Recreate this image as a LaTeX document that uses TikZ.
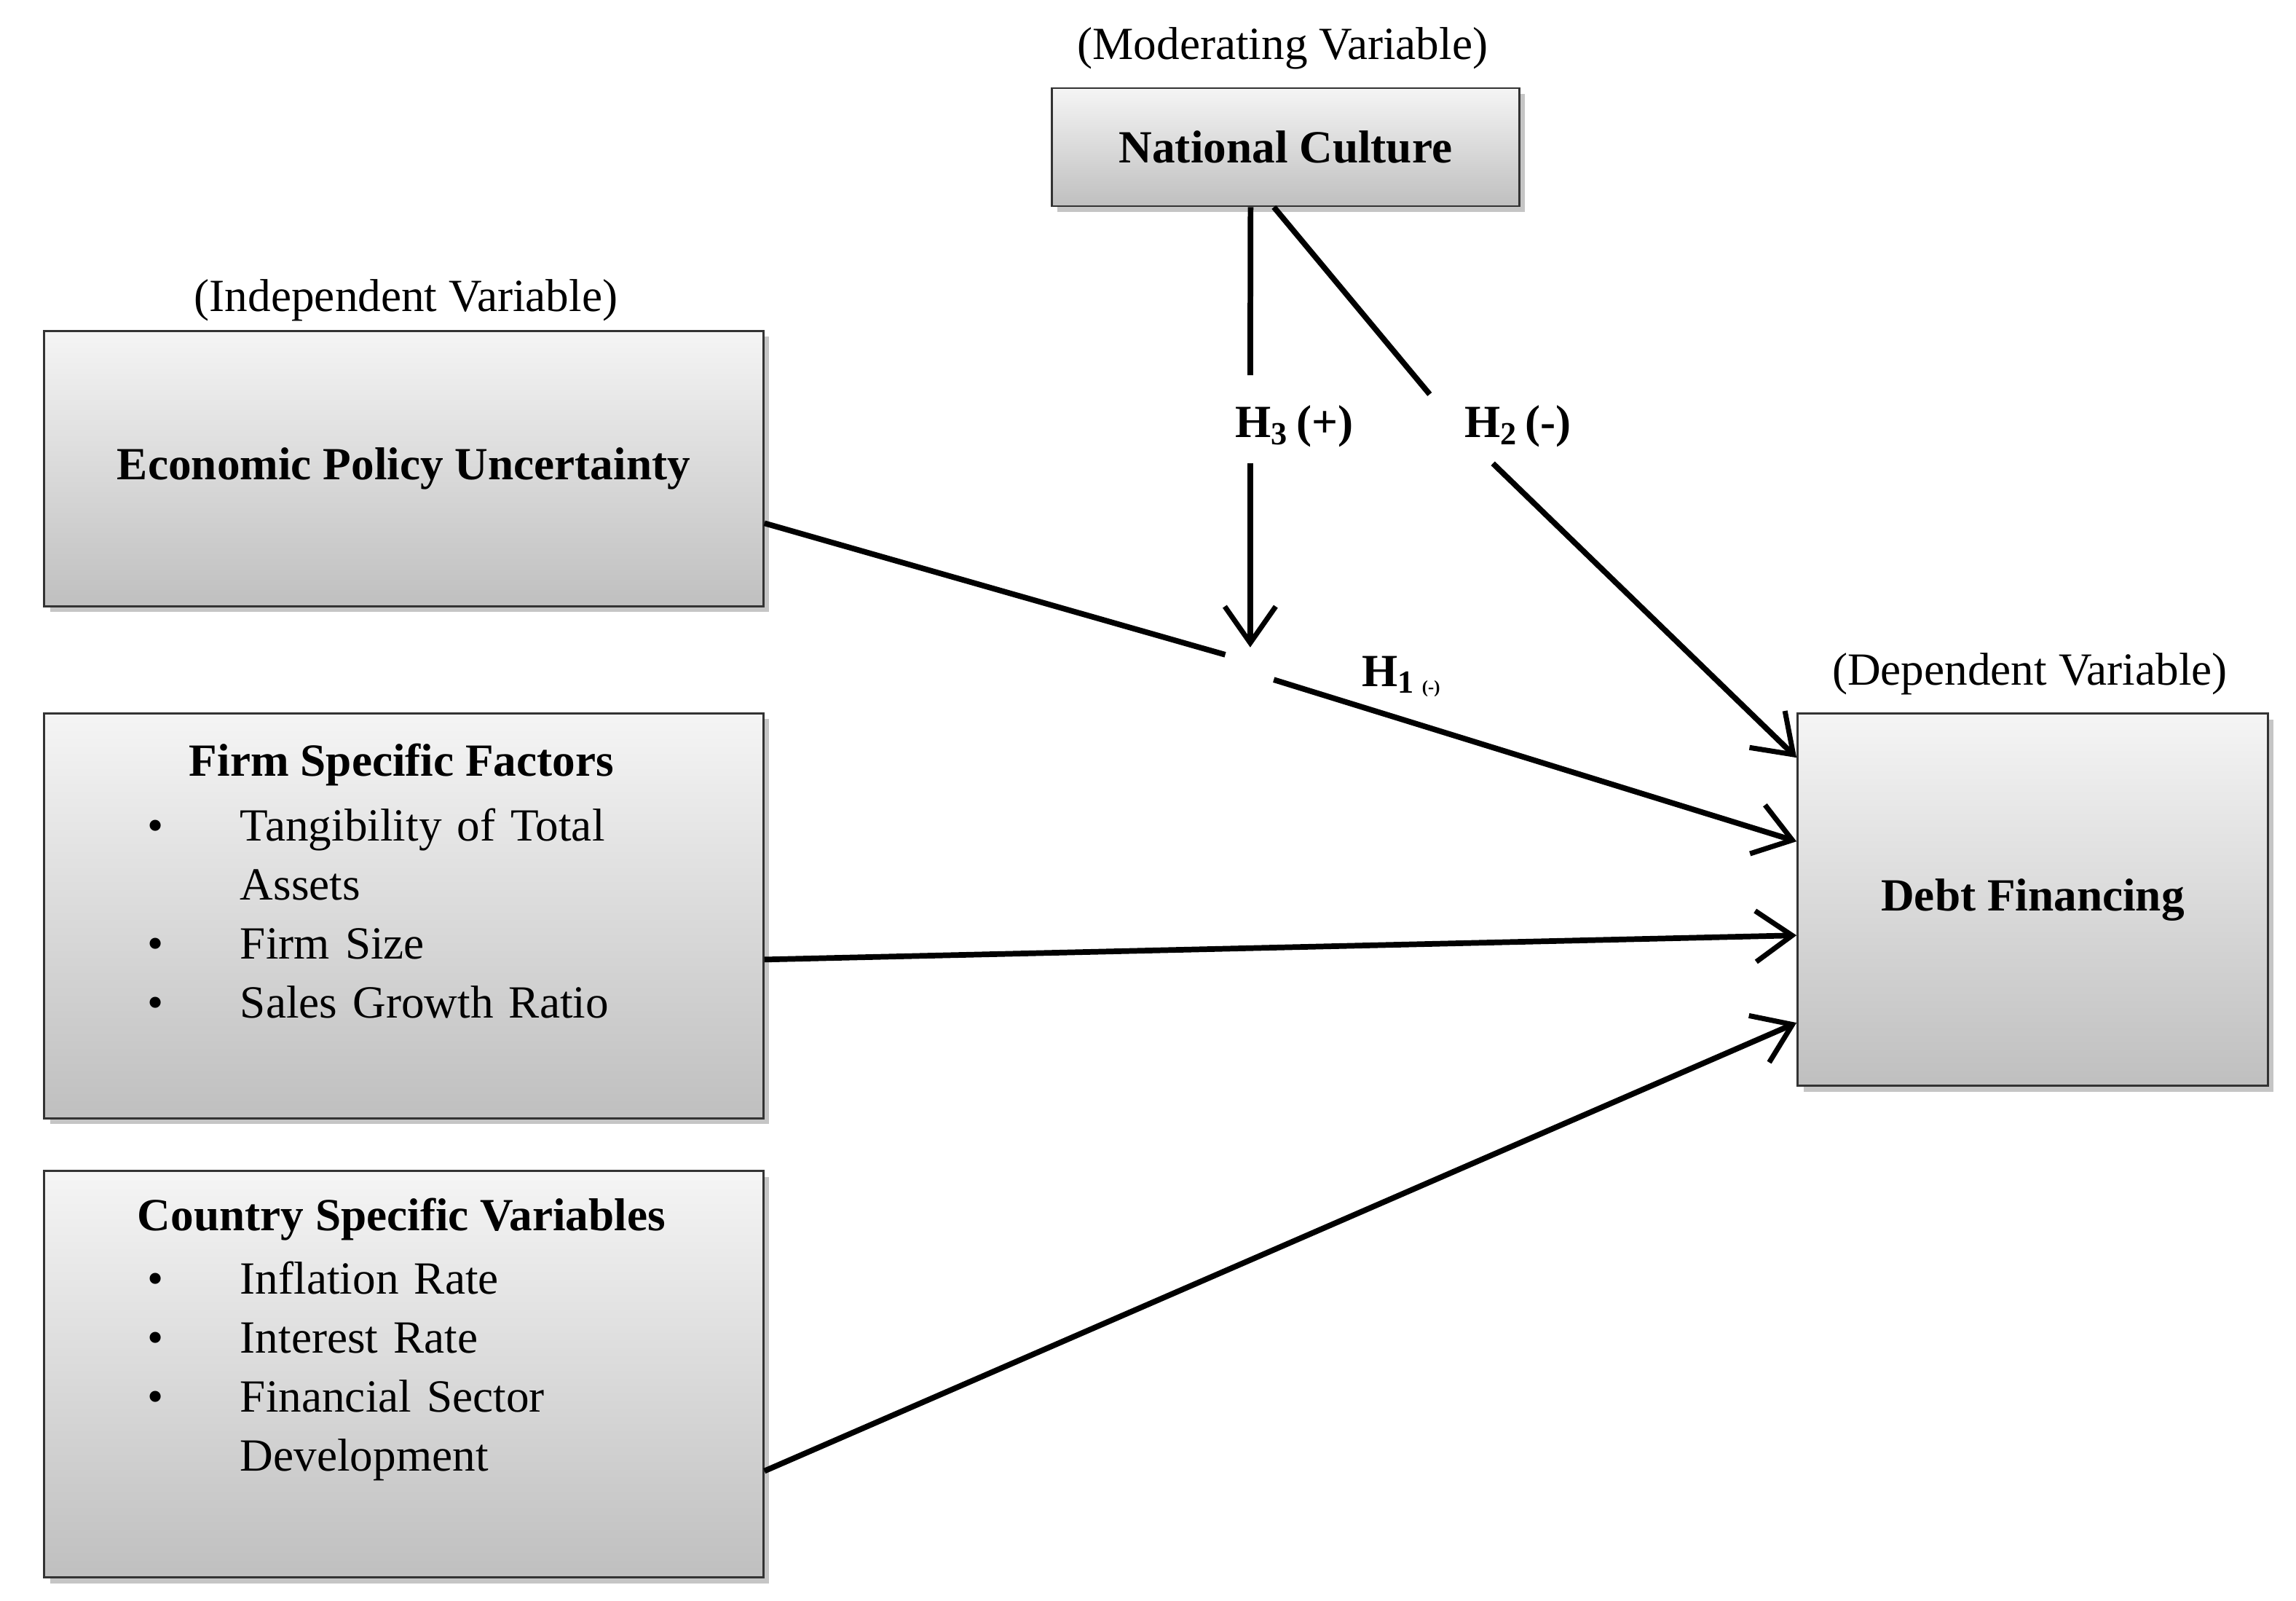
\documentclass[tikz,border=0pt]{standalone}
\usepackage{fontspec}
\setmainfont{Liberation Serif}
\usetikzlibrary{arrows.meta,shadows}
\tikzset{
  box/.style={draw=black!80, thick, top color=gray!8, bottom color=gray!50,
    drop shadow={shadow xshift=0.8mm, shadow yshift=-0.8mm, fill=black!45}},
  lab/.style={font=\fontsize{18}{22}\selectfont},
  link/.style={line width=2.2pt, -{Straight Barb[length=5mm,width=7mm,line width=2pt]}},
  seg/.style={line width=2.2pt}
}
\newcommand{\itm}[1]{\noindent\llap{\textbullet\hspace{1.05cm}}#1\par}
\begin{document}
\begin{tikzpicture}[x=0.0202cm, y=-0.0202cm]
  \useasboundingbox (0,0) rectangle (1561,1088);

  % boxes
  \node[box, minimum width=6.42cm, minimum height=1.62cm, lab] (nc) at (874,100) {\textbf{National Culture}};
  \node[box, minimum width=9.88cm, minimum height=3.78cm, lab] (epu) at (274.5,318.5) {\textbf{Economic Policy Uncertainty}};
  \node[box, minimum width=9.88cm, minimum height=5.56cm] (firm) at (274.5,622.5) {};
  \node[box, minimum width=9.88cm, minimum height=5.58cm] (ctry) at (274.5,934) {};
  \node[box, minimum width=6.46cm, minimum height=5.11cm, lab] (debt) at (1382,611.5) {\textbf{Debt Financing}};

  % box contents
  \node[lab] (firmT) at (273,520) {\textbf{Firm Specific Factors}};
  \node[lab, anchor=north west, text width=6.7cm, inner sep=0pt] (firmL) at (163,549) {\linespread{1.05}\selectfont
    \itm{Tangibility of Total\linebreak Assets}\itm{Firm Size}\itm{Sales Growth Ratio}};
  \node[lab] (ctryT) at (273,829) {\textbf{Country Specific Variables}};
  \node[lab, anchor=north west, text width=6.7cm, inner sep=0pt] (ctryL) at (163,857) {\linespread{1.05}\selectfont
    \itm{Inflation Rate}\itm{Interest Rate}\itm{Financial Sector\linebreak Development}};

  % headings
  \node[lab] (modT) at (872,33) {(Moderating Variable)};
  \node[lab] (indT) at (276,204) {(Independent Variable)};
  \node[lab] (depT) at (1380,458) {(Dependent Variable)};

  % hypothesis labels
  \node[lab] (h3) at (880,290) {\textbf{H\textsubscript{3}\,(+)}};
  \node[lab] (h2) at (1032,290) {\textbf{H\textsubscript{2}\,(-)}};
  \node[lab] (h1) at (953,460) {\textbf{H\textsubscript{1 \scriptsize(-)}}};

  % gap points
  \coordinate (g3a) at (850,255);
  \coordinate (g3b) at (850,315);
  \coordinate (g3c) at (850,440);
  \coordinate (g2a) at (972,268);
  \coordinate (g2b) at (1015,315);
  \coordinate (g1a) at (833,445);
  \coordinate (g1b) at (866,462);

  % connectors
  \draw[seg] ([xshift=-0.48cm]nc.south) -- (g3a);
  \draw[link] (g3b) -- (g3c);
  \draw[seg] ([xshift=-0.16cm]nc.south) -- (g2a);
  \draw[link] (g2b) -- ([yshift=1.95cm]debt.west);
  \draw[seg] ([yshift=-0.75cm]epu.east) -- (g1a);
  \draw[link] (g1b) -- ([yshift=0.8cm]debt.west);
  \draw[link] ([yshift=-0.6cm]firm.east) -- ([yshift=-0.49cm]debt.west);
  \draw[link] ([yshift=-1.33cm]ctry.east) -- ([yshift=-1.69cm]debt.west);
\end{tikzpicture}
\end{document}
